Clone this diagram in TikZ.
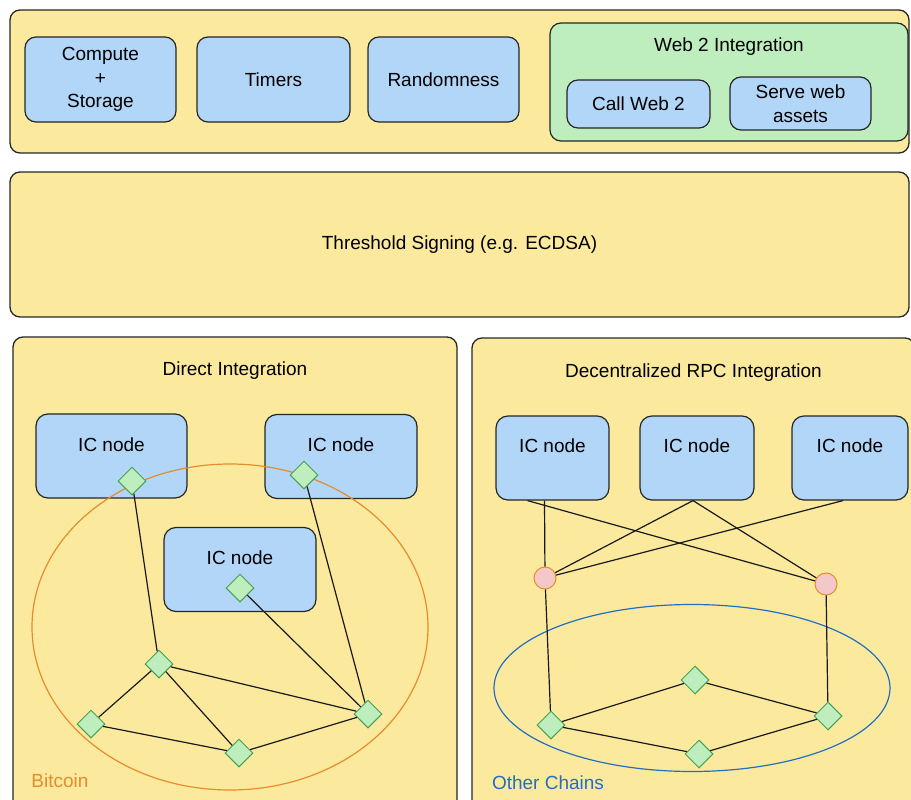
\documentclass[tikz,border=0pt]{standalone}
\usepackage{fontspec}
\setmainfont{Liberation Sans}
\usetikzlibrary{shapes.geometric,positioning,calc}

\definecolor{paneltan}{RGB}{251,234,158}
\definecolor{boxblue}{RGB}{178,214,248}
\definecolor{webgreen}{RGB}{190,238,190}
\definecolor{peerfill}{RGB}{190,238,190}
\definecolor{peerline}{RGB}{70,160,80}
\definecolor{relaypink}{RGB}{244,200,200}
\definecolor{btcorange}{RGB}{230,140,45}
\definecolor{chainblue}{RGB}{35,110,195}
\newcommand{\lbl}{\fontsize{19}{23.5}\selectfont}

\begin{document}
\begin{tikzpicture}[x=1pt, y=-1pt,
    panel/.style={draw=black!85, fill=paneltan, rounded corners=10pt, line width=1.3pt, inner sep=0pt, font=\lbl},
    feature/.style={draw=black!85, fill=boxblue, rounded corners=11pt, line width=1.2pt, align=center, inner sep=0pt, font=\lbl},
    icnode/.style={draw=black!85, fill=boxblue, rounded corners=12pt, line width=1.2pt, inner sep=0pt, text height=37pt, text depth=47pt, font=\lbl},
    peer/.style={diamond, draw=peerline, fill=peerfill, line width=1pt, minimum size=28pt, inner sep=0pt},
    relay/.style={circle, draw=btcorange, fill=relaypink, line width=1pt, minimum size=22pt, inner sep=0pt},
    net/.style={ellipse, line width=1.2pt, inner sep=0pt},
    link/.style={draw=black!90, line width=1.2pt}
]
    \useasboundingbox (0,0) rectangle (911,800);
    \clip (0,0) rectangle (911,800);

    % Panel A: System features
    \node[panel, minimum width=899pt, minimum height=143pt] (features) at (459.5,81.5) {};
    \node[feature, minimum width=151pt, minimum height=85pt] (compute) at (100.5,79.5) {Compute\\+\\Storage};
    \node[feature, minimum width=153pt, minimum height=85pt] (timers) at (273.5,79.5) {Timers};
    \node[feature, minimum width=151pt, minimum height=85pt] (random) at (443.5,79.5) {Randomness};
    \node[feature, fill=webgreen, minimum width=358pt, text height=29pt, text depth=89pt] (web2) at (729,82) {Web 2 Integration};
    \node[feature, minimum width=143pt, minimum height=48pt] (callweb) at (638.5,104) {Call Web 2};
    \node[feature, minimum width=141pt, minimum height=53pt] (serveweb) at (800.5,103.5) {Serve web\\assets};

    % Panel B: Threshold signing
    \node[panel, minimum width=899pt, minimum height=145pt] (threshold) at (459.5,244.5) {Threshold Signing (e.g. ECDSA)};

    % Panel C: Direct integration
    \node[panel, minimum width=444pt, text height=38pt, text depth=437pt] (direct) at (235,574.5) {Direct Integration};
    \node[icnode, minimum width=151pt] (ic1) at (111.5,456) {IC node};
    \node[icnode, minimum width=152pt] (ic2) at (341,456.5) {IC node};
    \node[icnode, minimum width=152pt] (ic3) at (240,569.5) {IC node};
    \node[net, draw=btcorange, minimum width=396pt, minimum height=326pt] (btcnet) at (230,627) {};
    \node[font=\lbl, text=btcorange] (btclabel) at (60,781) {Bitcoin};

    \node[peer] (d1) at (132,481) {};
    \node[peer] (d2) at (304,475) {};
    \node[peer] (d3) at (240,588) {};
    \node[peer] (d4) at (159,664) {};
    \node[peer] (d5) at (91,724) {};
    \node[peer] (d6) at (239,753) {};
    \node[peer] (d7) at (368,714) {};

    \draw[link] (d1) -- (d4);
    \draw[link] (d2) -- (d7);
    \draw[link] (d3) -- (d7);
    \draw[link] (d4) -- (d5);
    \draw[link] (d4) -- (d6);
    \draw[link] (d4) -- (d7);
    \draw[link] (d5) -- (d6);
    \draw[link] (d6) -- (d7);

    % Panel D: Decentralized RPC integration
    \node[panel, minimum width=443pt, text height=39pt, text depth=435pt] (rpc) at (693.5,575) {Decentralized RPC Integration};
    \node[icnode, minimum width=113pt, text height=36pt, text depth=48pt] (rb1) at (552.5,458) {IC node};
    \node[icnode, minimum width=114pt, text height=36pt, text depth=48pt] (rb2) at (697,458) {IC node};
    \node[icnode, minimum width=116pt, text height=36pt, text depth=48pt] (rb3) at (850,458) {IC node};
    \node[net, draw=chainblue, minimum width=396pt, minimum height=167pt] (chainnet) at (692,688) {};
    \node[font=\lbl, text=chainblue] (chainlabel) at (548,783) {Other Chains};

    \node[relay] (c1) at (545,578) {};
    \node[relay] (c2) at (826,584) {};

    \node[peer] (e1) at (551,725) {};
    \node[peer] (e2) at (695,680) {};
    \node[peer] (e3) at (828,716) {};
    \node[peer] (e4) at (699,754) {};

    \draw[link] ([xshift=-8pt]rb1.south) -- (c1);
    \draw[link] ([xshift=-25pt]rb1.south) -- (c2);
    \draw[link] ([xshift=-4pt]rb2.south) -- (c1);
    \draw[link] ([xshift=-4pt]rb2.south) -- (c2);
    \draw[link] ([xshift=-7pt]rb3.south) -- (c1);
    \draw[link] (c1) -- (e1);
    \draw[link] (c2) -- (e3);
    \draw[link] (e1) -- (e2);
    \draw[link] (e2) -- (e3);
    \draw[link] (e1) -- (e4);
    \draw[link] (e4) -- (e3);
\end{tikzpicture}
\end{document}
